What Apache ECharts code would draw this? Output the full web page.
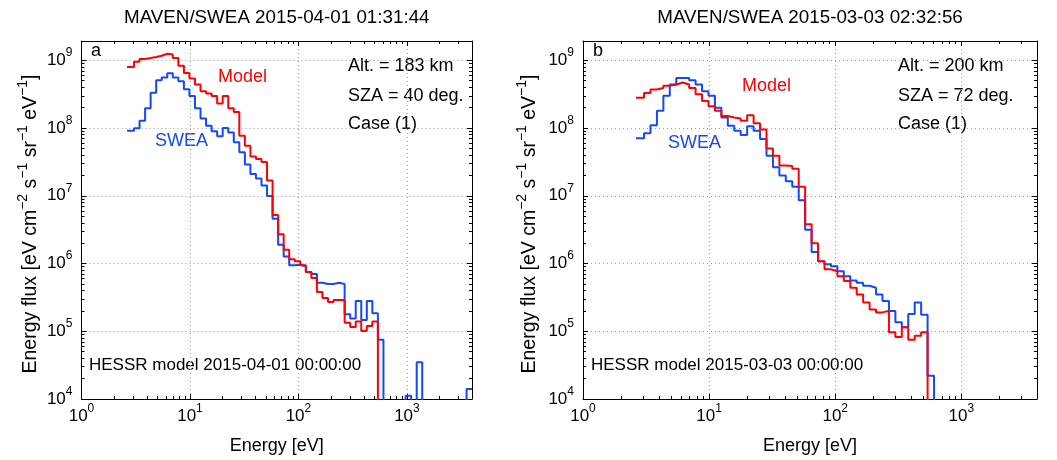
<!DOCTYPE html>
<html><head><meta charset="utf-8">
<script src="https://cdn.jsdelivr.net/npm/echarts@6/dist/echarts.min.js"></script>
<style>html,body{margin:0;padding:0;background:#fff}#c{width:1057px;height:460px}</style>
</head><body><div id="c"></div>
<script>
// Energy bin left edges [eV] (first entry = start of first plotted bin)
const energyEdges = [2.63, 3.048, 3.428, 3.857, 4.338, 4.880, 5.490, 6.175, 6.947, 7.814, 8.790,
  9.886, 11.12, 12.51, 14.07, 15.83, 17.81, 20.03, 22.53, 25.34, 28.51,
  32.07, 36.07, 40.57, 45.64, 51.34, 57.75, 64.96, 73.07, 82.19, 92.45,
  104.0, 117.0, 131.6, 148.0, 166.5, 187.3, 210.7, 237.0, 266.6, 299.9,
  337.3, 379.4, 426.8, 480.1, 540.0, 607.4, 683.3, 768.6, 864.6, 972.5,
  1094, 1231, 1384, 1557, 1752, 1970, 2216, 2493, 2804, 3155, 3548, 3991];

// Panel a (2015-04-01) energy flux values
const sweaA = [9.1e7, 9.9e7, 1.28e8, 1.96e8, 3.33e8, 5.1e8, 5.6e8, 6.45e8, 5.6e8, 4.93e8, 3.73e8,
  2.97e8, 1.96e8, 1.39e8, 1.08e8, 9.0e7, 7.6e7, 1.0e8, 8.6e7, 6.2e7, 4.4e7,
  2.9e7, 2.1e7, 1.8e7, 1.42e7, 9.9e6, 4.6e6, 1.89e6, 1.27e6, 9.4e5, 9.6e5,
  9.1e5, 7.5e5, 7.0e5, 5.2e5, 5.0e5, 5.0e5, 5.2e5, 5.0e5, 1.78e5, 1.55e5,
  2.8e5, 1.47e5, 2.8e5, 1.84e5, 7.5e4, 1e3, 1e3, 1e3, 1e3, 1.12e4,
  1e3, 3.5e4, 1e3, 1e3, 1e3, 1e3, 1e3, 1e3, 1e3, 1e3, 1.4e4, 1.4e4];
const modelA = [8.0e8, 9.5e8, 1.05e9, 1.08e9, 1.12e9, 1.17e9, 1.25e9, 1.22e9, 1.08e9, 8.3e8, 6.5e8,
  5.4e8, 4.4e8, 3.5e8, 3.25e8, 2.97e8, 2.3e8, 2.97e8, 1.96e8, 1.73e8, 7.7e7,
  5.5e7, 3.8e7, 3.5e7, 3.15e7, 1.68e7, 5.2e6, 2.7e6, 1.6e6, 1.16e6, 1.08e6,
  9.4e5, 7.5e5, 6.1e5, 3.8e5, 3.1e5, 2.7e5, 2.9e5, 2.9e5, 1.34e5, 1.16e5,
  1.39e5, 1.01e5, 1.2e5, 1.39e5, 1e3];

// Panel b (2015-03-03) energy flux values
const sweaB = [7.1e7, 8.4e7, 1.1e8, 1.8e8, 3.0e8, 4.4e8, 5.5e8, 5.5e8, 5.1e8, 4.4e8, 3.5e8,
  3.0e8, 2.0e8, 1.43e8, 1.08e8, 9.1e7, 7.9e7, 1.06e8, 9.1e7, 6.9e7, 3.9e7,
  2.65e7, 2.0e7, 1.64e7, 1.36e7, 8.6e6, 3.15e6, 1.48e6, 1.08e6, 9.8e5, 9.1e5,
  7.7e5, 6.5e5, 5.6e5, 5.2e5, 4.7e5, 4.4e5, 3.5e5, 2.8e5, 2.0e5, 1.36e5,
  1.15e5, 1.8e5, 2.65e5, 1.75e5, 2.2e4, 1e3];
const modelB = [2.8e8, 3.3e8, 3.7e8, 3.9e8, 4.2e8, 4.4e8, 4.7e8, 4.4e8, 3.9e8, 3.15e8, 2.5e8,
  2.1e8, 1.8e8, 1.51e8, 1.43e8, 1.38e8, 1.28e8, 1.55e8, 1.18e8, 9.5e7, 5.0e7,
  3.9e7, 2.8e7, 2.75e7, 2.5e7, 1.36e7, 3.8e6, 2.0e6, 1.08e6, 8.2e5, 7.7e5,
  6.5e5, 5.5e5, 4.4e5, 3.5e5, 2.65e5, 2.1e5, 1.9e5, 2.0e5, 9.7e4, 8.2e4,
  1.15e5, 7.5e4, 8.6e4, 9.7e4, 1e3];

const xRange = [1, 3981];
const yRange = [1e4, 1.93e9];
const titles = ['MAVEN/SWEA 2015-04-01 01:31:44', 'MAVEN/SWEA 2015-03-03 02:32:56'];
const modelTimes = ['HESSR model 2015-04-01 00:00:00', 'HESSR model 2015-03-03 00:00:00'];
const panelInfo = [['Alt. = 183 km', 'SZA = 40 deg.', 'Case (1)'], ['Alt. = 200 km', 'SZA = 72 deg.', 'Case (1)']];
const panelLetters = ['a', 'b'];

const FF = "'Liberation Sans', Arial, Helvetica, sans-serif";
const RED = '#ff0000', BLUE = '#1447ff';

function powLabel(v) {
  const e = Math.log10(v), r = Math.round(e);
  if (Math.abs(e - r) > 1e-6) return '';
  return '{b|10}{s|' + r + '}';
}
const richPow = {
  b: {fontSize: 17, lineHeight: 27, fontFamily: FF, color: '#000'},
  s: {fontSize: 12, lineHeight: 12, verticalAlign: 'top', fontFamily: FF, color: '#000'}
};
function pairs(vals) { return vals.map((v, i) => [energyEdges[i], v]); }

const grids = [
  {left: 81.5, top: 41, width: 390.5, height: 361},
  {left: 583, top: 41, width: 454, height: 361}
];
const axisLine = {show: true, onZero: false, lineStyle: {color: '#000', width: 1}};
const tick = {show: true, inside: true, length: 5, lineStyle: {color: '#000'}};
const minor = {show: true, splitNumber: 9, length: 3, lineStyle: {color: '#000'}};
const split = {show: true, lineStyle: {color: '#9a9a9a', width: 1, type: [1, 3]}};

const xAxes = [], yAxes = [];
[0, 1].forEach(g => {
  xAxes.push({type: 'log', logBase: 10, gridIndex: g, position: 'bottom', min: xRange[0], max: xRange[1],
    axisLine, axisTick: tick, minorTick: minor, splitLine: split,
    axisLabel: {formatter: powLabel, rich: richPow, margin: 4, showMinLabel: true, hideOverlap: false},
    name: 'Energy [eV]', nameLocation: 'middle', nameGap: 38,
    nameTextStyle: {fontSize: 18, fontFamily: FF, color: '#000'}});
  xAxes.push({type: 'log', logBase: 10, gridIndex: g, position: 'top', min: xRange[0], max: xRange[1],
    axisLine, axisTick: tick, minorTick: minor, splitLine: {show: false}, axisLabel: {show: false}});
  yAxes.push({type: 'log', logBase: 10, gridIndex: g, position: 'left', min: yRange[0], max: yRange[1],
    axisLine, axisTick: tick, minorTick: minor, splitLine: split,
    axisLabel: {formatter: powLabel, rich: richPow, margin: 9, hideOverlap: false}});
  yAxes.push({type: 'log', logBase: 10, gridIndex: g, position: 'right', min: yRange[0], max: yRange[1],
    axisLine, axisTick: tick, minorTick: minor, splitLine: {show: false}, axisLabel: {show: false}});
});

function line(vals, color, g) {
  return {type: 'line', xAxisIndex: 2 * g, yAxisIndex: 2 * g, data: pairs(vals), step: 'end',
    showSymbol: false, symbol: 'none', clip: true, animation: false,
    lineStyle: {color, width: 2}, itemStyle: {color}};
}

function txt(x, y, text, opts) {
  return Object.assign({type: 'text', x, y, silent: true,
    style: Object.assign({text, fontSize: 18, fontFamily: FF, fill: '#000', textAlign: 'left', textVerticalAlign: 'middle'}, opts || {})});
}
const yName = 'Energy flux [eV cm{s|−2} s{s|−1} sr{s|−1} eV{s|−1}]';
const yRich = {s: {fontSize: 14, lineHeight: 14, verticalAlign: 'top', fontFamily: FF, fill: '#000', color: '#000'}};
function yLabel(x, y) {
  return {type: 'text', x, y, rotation: Math.PI / 2, silent: true,
    style: {text: yName, rich: yRich, fontSize: 19.5, lineHeight: 30, fontFamily: FF, fill: '#000',
      textAlign: 'center', textVerticalAlign: 'middle'}};
}

const graphics = [];
const panelX = [[81.5, 472, 91, 348, 89], [583, 1037, 593, 898, 591]];
[0, 1].forEach(g => {
  const [l, r, lx, ix, hx] = panelX[g];
  graphics.push(txt((l + r) / 2, 18, titles[g], {textAlign: 'center', fontSize: 18.8}));
  graphics.push(txt(lx, 51, panelLetters[g]));
  graphics.push(txt(ix, 66, panelInfo[g][0]));
  graphics.push(txt(ix, 96, panelInfo[g][1]));
  graphics.push(txt(ix, 124, panelInfo[g][2]));
  graphics.push(txt(hx, 365, modelTimes[g], {fontSize: 17}));
});
graphics.push(txt(218, 77, 'Model', {fill: RED}));
graphics.push(txt(155, 141, 'SWEA', {fill: BLUE}));
graphics.push(txt(742, 86, 'Model', {fill: RED}));
graphics.push(txt(668, 143, 'SWEA', {fill: BLUE}));
graphics.push(yLabel(31, 224));
graphics.push(yLabel(530, 224));

const chart = echarts.init(document.getElementById('c'), null, {renderer: 'canvas'});
chart.setOption({
  animation: false,
  backgroundColor: '#fff',
  grid: grids,
  xAxis: xAxes,
  yAxis: yAxes,
  series: [line(sweaA, BLUE, 0), line(modelA, RED, 0), line(sweaB, BLUE, 1), line(modelB, RED, 1)],
  graphic: graphics
});
</script>
</body></html>
